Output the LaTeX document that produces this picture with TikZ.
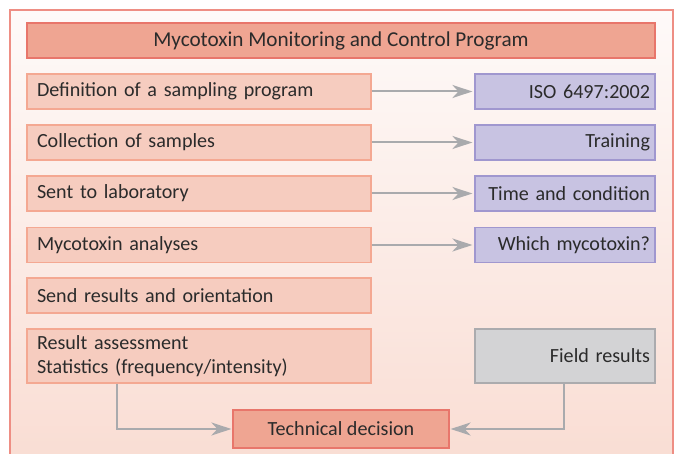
\documentclass[tikz,border=0pt]{standalone}
\usepackage{fontspec}
\setmainfont{Carlito}
\usetikzlibrary{arrows.meta}
\definecolor{frameline}{HTML}{EE8E84}
\definecolor{bgtop}{HTML}{FEFAF9}
\definecolor{bgbot}{HTML}{F9DCD2}
\definecolor{titlefill}{HTML}{EFA592}
\definecolor{titleline}{HTML}{E8766B}
\definecolor{leftfill}{HTML}{F6CCBF}
\definecolor{leftline}{HTML}{F4A892}
\definecolor{rightfill}{HTML}{C8C3E2}
\definecolor{rightline}{HTML}{A097CF}
\definecolor{greyfill}{HTML}{D3D3D5}
\definecolor{greyline}{HTML}{ABABAE}
\definecolor{arrowcol}{HTML}{A9AAAD}
\definecolor{txt}{HTML}{2B2B2B}
\tikzset{
  every node/.style={font=\fontsize{20.1}{23.5}\selectfont, text=txt},
  titlebox/.style={draw=titleline, fill=titlefill, line width=1.2pt, minimum width=628pt, minimum height=35pt, inner sep=0pt, font=\fontsize{21.2}{24}\selectfont},
  leftbox/.style={draw=leftline, fill=leftfill, line width=1.2pt, minimum width=344pt, minimum height=35pt, inner xsep=10pt, inner ysep=0pt, text width=324pt, align=left},
  rightbox/.style={draw=rightline, fill=rightfill, line width=1.2pt, minimum width=180pt, minimum height=35pt, inner xsep=5pt, inner ysep=0pt, text width=170pt, align=right},
  greybox/.style={draw=greyline, fill=greyfill, line width=1.2pt, minimum width=180pt, minimum height=54pt, inner xsep=5pt, inner ysep=0pt, text width=170pt, align=right},
  decbox/.style={draw=titleline, fill=titlefill, line width=1.2pt, minimum width=216pt, minimum height=38pt, inner sep=0pt},
  conn/.style={draw=arrowcol, line width=2pt, -{Stealth[length=20pt,width=13pt,inset=6pt]}}
}
\begin{document}
\begin{tikzpicture}[x=1pt,y=-1pt]
\useasboundingbox (0,0) rectangle (677,454);
\begin{scope}
\clip (0,0) rectangle (677,454);
\shade[top color=bgtop, bottom color=bgbot, draw=frameline, line width=1.5pt] (10,10) rectangle (673,480);
\end{scope}
\node[titlebox] (title) at (341,40.5) {Mycotoxin Monitoring and Control Program};
\node[leftbox] (l1) at (199,91.5) {Definition of a sampling program};
\node[leftbox] (l2) at (199,142.5) {Collection of samples};
\node[leftbox] (l3) at (199,193.5) {Sent to laboratory};
\node[leftbox] (l4) at (199,245) {Mycotoxin analyses};
\node[leftbox] (l5) at (199,295.5) {Send results and orientation};
\node[leftbox, minimum height=54pt] (l6) at (199,356) {Result assessment\\Statistics (frequency/intensity)};
\node[rightbox] (r1) at (565,91.5) {ISO 6497:2002};
\node[rightbox] (r2) at (565,142.5) {Training};
\node[rightbox] (r3) at (565,193.5) {Time and condition};
\node[rightbox] (r4) at (565,245) {Which mycotoxin?};
\node[greybox] (r6) at (565,356) {Field results};
\node[decbox] (dec) at (341,429) {Technical decision};
\draw[conn] (l1.east) -- ([xshift=-2pt]r1.west);
\draw[conn] (l2.east) -- ([xshift=-2pt]r2.west);
\draw[conn] (l3.east) -- ([xshift=-2pt]r3.west);
\draw[conn] (l4.east) -- ([xshift=-2pt]r4.west);
\draw[conn] (l6.south -| 117,0) |- ([xshift=-1pt]dec.west);
\draw[conn] (r6.south -| 564,0) |- ([xshift=1pt]dec.east);
\end{tikzpicture}
\end{document}
